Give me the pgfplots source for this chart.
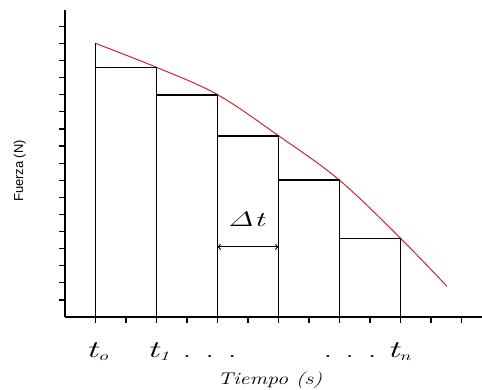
\documentclass[border=0pt]{standalone}
\usepackage{fontspec}
\newfontfamily\wideit[FakeStretch=1.55]{Latin Modern Roman}
\newfontfamily\midit[FakeStretch=1.3]{Latin Modern Roman}
\newfontfamily\axfont{Liberation Sans}
\usepackage{pgfplots}
\pgfplotsset{compat=1.18}
\definecolor{curvered}{RGB}{205,35,50}
\newcommand{\tlab}[1]{{\fontsize{24}{24}\wideit\itshape t}\raisebox{-0.3em}{\fontsize{13}{13}\wideit\itshape #1}}
\newcommand{\tdot}{{\fontsize{24}{24}\wideit .}}
\begin{document}
\begin{tikzpicture}[x=1bp,y=1bp]
\useasboundingbox (-65,-72) rectangle (417,317);
\begin{axis}[at={(0,0)}, anchor=south west,
  x=30.5bp, y=17.1bp,
  xmin=0, xmax=13.67, ymin=0, ymax=17.95,
  enlargelimits=false, clip=false,
  axis lines=left,
  axis line style={-, line width=1.5bp, black},
  xtick={1,...,13}, ytick={1,...,17},
  xticklabels={}, yticklabels={},
  tick align=outside, major tick length=6bp,
  tick style={black, line width=1.2bp},
]
% curve
\addplot[curvered, line width=1bp, smooth, tension=0.6] coordinates {(1,16.0)(3,14.6)(5,13.0)(7,10.6)(9,8.0)(11,4.6)(12.52,1.8)};
% rectangles
\addplot[black, line width=1.6bp] coordinates {(1,0)(1,16.0)};
\addplot[black, line width=1.6bp] coordinates {(1,14.6)(3,14.6)(3,0)};
\addplot[black, line width=1.6bp] coordinates {(3,13.0)(5,13.0)(5,0)};
\addplot[black, line width=1.6bp] coordinates {(5,10.6)(7,10.6)(7,0)};
\addplot[black, line width=1.6bp] coordinates {(7,8.0)(9,8.0)(9,0)};
\addplot[black, line width=1.6bp] coordinates {(9,4.6)(11,4.6)(11,0)};
% delta t arrow
\addplot[black, line width=1.2bp, <->] coordinates {(5,4.1)(7,4.1)};
\node at (axis cs:5.95,5.75) {\fontsize{21}{21}\wideit\itshape Δt};
% tick labels
\node[anchor=base] at (axis cs:1.05,-2.35) {\tlab{o}};
\node[anchor=base] at (axis cs:3.05,-2.35) {\tlab{1}};
\node[anchor=base] at (axis cs:4.0,-2.35) {\tdot};
\node[anchor=base] at (axis cs:4.75,-2.35) {\tdot};
\node[anchor=base] at (axis cs:5.48,-2.35) {\tdot};
\node[anchor=base] at (axis cs:8.62,-2.35) {\tdot};
\node[anchor=base] at (axis cs:9.34,-2.35) {\tdot};
\node[anchor=base] at (axis cs:10.07,-2.35) {\tdot};
\node[anchor=base] at (axis cs:10.95,-2.35) {\tlab{n}};
% axis titles
\node[anchor=base] at (axis cs:6.72,-3.95) {\fontsize{17}{17}\midit\itshape Tiempo (s)};
\node[rotate=90] at (axis cs:-1.48,8.54) {\fontsize{13}{13}\axfont Fuerza (N)};
\end{axis}
\end{tikzpicture}
\end{document}
